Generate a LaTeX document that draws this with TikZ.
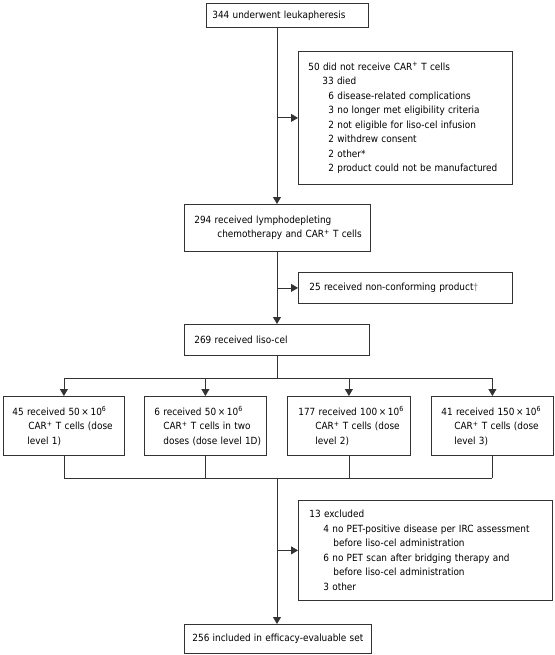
\documentclass[tikz,border=0pt]{standalone}
\usepackage{fontspec}
\setmainfont{DejaVu Sans Condensed}
\usetikzlibrary{arrows.meta}
\definecolor{lc}{HTML}{333333}
\newcommand{\CARp}{CAR\textsuperscript{+}}
\newcommand{\tensix}{10\textsuperscript{6}}
\tikzset{
  every node/.style={font=\fontsize{9.9}{14.5}\selectfont, text=black},
  box/.style={draw=lc, line width=0.8pt, align=left, anchor=north west, inner ysep=0pt},
  arr/.style={draw=lc, line width=0.8pt, -{Triangle[length=7pt,width=8pt]}},
  ln/.style={draw=lc, line width=0.8pt},
}
\begin{document}
\begin{tikzpicture}[x=1pt,y=-1pt]
\useasboundingbox (0,0) rectangle (554,655);
% spine coordinates
\coordinate (sx) at (277,0);
\coordinate (brY) at (0,378);
\coordinate (mgY) at (0,478);

\node[box, inner xsep=6pt, text width=150pt, minimum height=24pt] (b1) at (206,3)
  {\mbox{344 underwent leukapheresis}};

\node[box, inner xsep=10pt, text width=194pt, minimum height=133pt] (e1) at (298,51)
  {\mbox{50 did not receive \CARp\ T cells}\\
   \mbox{\hspace*{14pt}33 died}\\
   \mbox{\hspace*{20pt}6 disease-related complications}\\
   \mbox{\hspace*{20pt}3 no longer met eligibility criteria}\\
   \mbox{\hspace*{20pt}2 not eligible for liso-cel infusion}\\
   \mbox{\hspace*{20pt}2 withdrew consent}\\
   \mbox{\hspace*{20pt}2 other*}\\
   \mbox{\hspace*{20pt}2 product could not be manufactured}};

\node[box, inner xsep=10pt, text width=166pt, minimum height=47pt] (b2) at (184,204)
  {\mbox{294 received lymphodepleting}\\
   \mbox{\hspace*{23pt}chemotherapy and \CARp\ T cells}};

\node[box, inner xsep=11pt, text width=192pt, minimum height=31pt] (e2) at (298,272)
  {\mbox{25 received non-conforming product{\color{gray}\textdagger}}};

\node[box, inner xsep=10pt, text width=165pt, minimum height=31pt] (b4) at (184,324)
  {269 received liso-cel};

\node[box, inner xsep=9pt, text width=103pt, minimum height=59pt] (r1) at (3,396)
  {\mbox{45 received 50\,×\,\tensix}\\
   \mbox{\hspace*{16pt}\CARp\ T cells (dose}\\
   \mbox{\hspace*{15pt}level 1)}};
\node[box, inner xsep=10pt, text width=102pt, minimum height=59pt] (r2) at (144,396)
  {\mbox{6 received 50\,×\,\tensix}\\
   \mbox{\hspace*{9pt}\CARp\ T cells in two}\\
   \mbox{\hspace*{9pt}doses (dose level 1D)}};
\node[box, inner xsep=11pt, text width=101pt, minimum height=59pt] (r3) at (287,396)
  {\mbox{177 received 100\,×\,\tensix}\\
   \mbox{\hspace*{17pt}\CARp\ T cells (dose}\\
   \mbox{\hspace*{17pt}level 2)}};
\node[box, inner xsep=10pt, text width=102pt, minimum height=59pt] (r4) at (431,396)
  {\mbox{41 received 150\,×\,\tensix}\\
   \mbox{\hspace*{13pt}\CARp\ T cells (dose}\\
   \mbox{\hspace*{13pt}level 3)}};

\node[box, inner xsep=11pt, text width=232pt, minimum height=100pt] (e3) at (298,500)
  {\mbox{13 excluded}\\
   \mbox{\hspace*{14pt}4 no PET-positive disease per IRC assessment}\\
   \mbox{\hspace*{24pt}before liso-cel administration}\\
   \mbox{\hspace*{14pt}6 no PET scan after bridging therapy and}\\
   \mbox{\hspace*{24pt}before liso-cel administration}\\
   \mbox{\hspace*{14pt}3 other}};

\node[box, align=center, inner xsep=6pt, text width=175pt, minimum height=29pt] (b5) at (184,624)
  {\mbox{256 included in efficacy-evaluable set}};

% connectors
\draw[arr] (b1.south -| sx) -- (b2.north -| sx);
\draw[arr] (e1.west -| sx) -- (e1.west);
\draw[arr] (b2.south -| sx) -- (b4.north -| sx);
\draw[arr] (e2.west -| sx) -- (e2.west);
\draw[ln] (b4.south -| sx) -- (brY -| sx);
\draw[ln] (brY -| r1.north) -- (brY -| r4.north);
\foreach \r in {r1,r2,r3,r4} {
  \draw[arr] (brY -| \r.north) -- (\r.north);
  \draw[ln] (\r.south) -- (mgY -| \r.south);
}
\draw[ln] (mgY -| r1.south) -- (mgY -| r4.south);
\draw[arr] (mgY -| sx) -- (b5.north -| sx);
\draw[arr] (e3.west -| sx) -- (e3.west);
\end{tikzpicture}
\end{document}
